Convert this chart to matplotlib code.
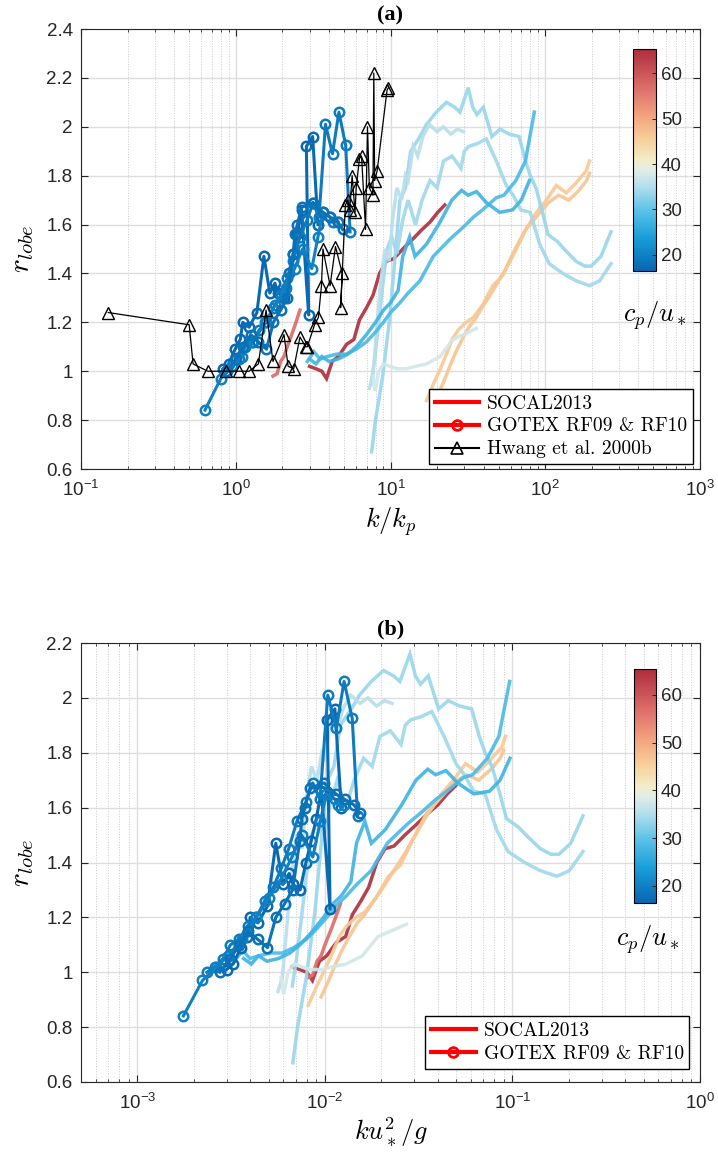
import numpy as np
import matplotlib
matplotlib.use('Agg')
import matplotlib.pyplot as plt
from matplotlib.colors import LinearSegmentedColormap, Normalize
from matplotlib.cm import ScalarMappable
from matplotlib.lines import Line2D
from matplotlib.ticker import LogLocator, FixedLocator, FuncFormatter, NullFormatter

plt.rcParams['font.family'] = ['Liberation Sans', 'DejaVu Sans']
plt.rcParams['mathtext.fontset'] = 'cm'

# ---------------- data ----------------
# SOCAL2013 lines: x = k/kp (panel a), y = r_lobe, cval = cp/u*, b_scale = divisor giving k u*^2/g
s1_x = [3.0, 3.3, 3.6, 3.86, 4.2, 4.6, 5.2, 5.8, 6.3, 7.0, 7.7, 8.5, 9.4, 10.5, 12.0, 13.9, 16.0, 18.0, 20.2, 22.4]
s1_y = [1.02, 1.01, 1.00, 0.97, 1.04, 1.06, 1.11, 1.13, 1.21, 1.26, 1.31, 1.40, 1.45, 1.46, 1.50, 1.54, 1.58, 1.61, 1.65, 1.68]
s2_x = [1.74, 1.85, 1.95, 2.05, 2.15, 2.30, 2.45, 2.60]
s2_y = [0.98, 0.99, 1.04, 1.06, 1.10, 1.15, 1.20, 1.25]
p1_x = [17.1, 19.0, 21.0, 23.0, 25.0, 27.5, 30.8, 34.3, 39.3, 45.8, 53.0, 61.5, 71.7, 87.6, 101.6, 118, 137, 158, 184, 193]
p1_y = [0.88, 0.95, 1.01, 1.07, 1.13, 1.17, 1.20, 1.22, 1.27, 1.35, 1.39, 1.48, 1.56, 1.65, 1.70, 1.76, 1.73, 1.77, 1.82, 1.86]
p2_x = [20.5, 22.5, 24.5, 26.5, 29, 32, 35, 39, 44, 50, 57, 65, 75, 90, 105, 122, 142, 165, 185, 193]
p2_y = [0.91, 0.97, 1.03, 1.08, 1.13, 1.18, 1.21, 1.26, 1.31, 1.37, 1.43, 1.50, 1.58, 1.64, 1.69, 1.72, 1.70, 1.74, 1.78, 1.81]
la_x = [7.55, 8.0, 8.9, 9.9, 10.7, 11.5, 12.5, 13.5, 15.5, 17.1, 19.8, 23.0, 26.0, 28.1, 31.8, 34.0, 36.2, 39.8, 45.2, 51, 58.6, 67.8, 74.5, 80, 87, 96, 104, 120, 137, 158, 180, 198, 229, 266]
la_y = [0.67, 0.80, 0.98, 1.22, 1.47, 1.70, 1.75, 1.90, 1.96, 2.01, 2.06, 2.10, 2.08, 2.06, 2.16, 2.08, 2.05, 2.08, 1.96, 1.99, 1.97, 1.96, 1.86, 1.80, 1.75, 1.65, 1.56, 1.53, 1.49, 1.45, 1.43, 1.43, 1.47, 1.57]
lb_x = [7.5, 7.9, 8.4, 8.9, 9.5, 10.2, 11.0, 12.0, 13.0, 14.5, 16.0, 18.0, 20.0, 22.0, 25.0, 28.5, 30.0, 32.0, 36.0, 41.6, 48.3, 56, 62, 69.5, 80, 92, 106, 130, 158, 193, 225, 266]
lb_y = [0.95, 1.05, 1.20, 1.35, 1.50, 1.55, 1.48, 1.62, 1.70, 1.60, 1.70, 1.78, 1.75, 1.86, 1.88, 1.83, 1.90, 1.92, 1.93, 1.95, 1.86, 1.76, 1.72, 1.66, 1.65, 1.52, 1.44, 1.40, 1.37, 1.35, 1.37, 1.44]
lp_x = [7.3, 7.7, 8.1, 8.6, 9.2, 9.8, 10.3, 11.0, 11.8, 12.5, 13.0, 14.0, 15.0, 16.2, 17.8, 20.0, 22.0, 24.5, 27.0, 29.6]
lp_y = [0.93, 0.98, 1.15, 1.35, 1.50, 1.45, 1.62, 1.75, 1.70, 1.80, 1.78, 1.92, 1.88, 1.96, 2.01, 1.98, 2.00, 1.97, 1.99, 1.98]
lf_x = [7.7, 7.95, 8.4, 9.0, 9.9, 11.0, 12.6, 14.5, 17.1, 20.9, 25.3, 30.8, 35.9]
lf_y = [0.98, 0.92, 1.00, 1.03, 1.02, 1.01, 1.01, 1.02, 1.03, 1.06, 1.13, 1.155, 1.175]
m1_x = [2.9, 3.2, 3.5, 3.9, 4.5, 5.2, 6.0, 7.0, 8.0, 9.0, 10.0, 11.5, 13.0, 15.5, 18.9, 24.2, 29.6, 34.3, 39.3, 48.3, 54, 64.6, 74.5, 79, 85]
m1_y = [1.04, 1.08, 1.05, 1.06, 1.07, 1.07, 1.09, 1.12, 1.16, 1.20, 1.24, 1.28, 1.32, 1.37, 1.47, 1.54, 1.59, 1.63, 1.66, 1.71, 1.72, 1.78, 1.86, 1.95, 2.06]
m2_x = [3.0, 3.3, 3.6, 4.0, 4.6, 5.3, 6.0, 7.0, 8.0, 9.0, 10.0, 11.2, 12.0, 13.3, 14.4, 17.1, 20.9, 24.9, 28.8, 31.7, 36, 41.6, 50.7, 61.5, 70, 79]
m2_y = [1.05, 1.03, 1.06, 1.04, 1.05, 1.07, 1.10, 1.15, 1.20, 1.25, 1.28, 1.33, 1.47, 1.55, 1.47, 1.52, 1.61, 1.70, 1.74, 1.72, 1.735, 1.69, 1.65, 1.66, 1.70, 1.78]

socal_x = [s1_x, s2_x, p1_x, p2_x, la_x, lb_x, lp_x, lf_x, m1_x, m2_x]
socal_y = [s1_y, s2_y, p1_y, p2_y, la_y, lb_y, lp_y, lf_y, m1_y, m2_y]
socal_c = [65.0, 57.0, 46.0, 46.5, 33.5, 34.0, 35.5, 37.5, 28.5, 27.5]
socal_b_scale = [450, 215, 2100, 2150, 1120, 1120, 1300, 1320, 880, 815]

# GOTEX RF09 & RF10
g1_x = [0.83, 0.90, 0.99, 1.07, 1.11, 1.22, 1.37, 1.52, 1.66, 1.79, 1.88, 2.05, 2.20, 2.35, 2.50, 2.66, 2.96, 2.86, 3.14, 3.40]
g1_y = [1.01, 1.03, 1.09, 1.13, 1.20, 1.18, 1.24, 1.47, 1.32, 1.36, 1.32, 1.30, 1.40, 1.48, 1.56, 1.66, 1.23, 1.92, 1.96, 1.60]
g2_x = [0.86, 0.95, 1.05, 1.15, 1.28, 1.42, 1.58, 1.75, 1.95, 2.15, 2.35, 2.60, 2.90, 3.16, 3.45, 3.80, 4.22, 4.64, 5.13, 5.48]
g2_y = [1.00, 1.02, 1.05, 1.10, 1.12, 1.17, 1.20, 1.26, 1.31, 1.38, 1.45, 1.55, 1.62, 1.69, 1.63, 2.01, 1.89, 2.06, 1.925, 1.57]
g3_x = [0.633, 0.80, 0.95, 1.10, 1.30, 1.55, 1.80, 2.10, 2.40, 2.70, 3.10, 3.40, 3.66, 4.07, 4.25, 4.57]
g3_y = [0.841, 0.97, 1.02, 1.06, 1.12, 1.20, 1.27, 1.34, 1.42, 1.50, 1.42, 1.55, 1.65, 1.63, 1.61, 1.61]
g4_x = [0.88, 1.00, 1.12, 1.25, 1.40, 1.58, 1.75, 1.95, 2.15, 2.35, 2.41, 2.50, 2.66, 3.16, 3.66, 4.07, 4.57, 4.90]
g4_y = [1.00, 1.05, 1.10, 1.15, 1.12, 1.09, 1.20, 1.25, 1.30, 1.48, 1.56, 1.60, 1.67, 1.69, 1.65, 1.63, 1.61, 1.58]
gotex_x = [g1_x, g2_x, g3_x, g4_x]
gotex_y = [g1_y, g2_y, g3_y, g4_y]
gotex_c = [16.8, 19.2, 20.0, 18.0]
gotex_b_scale = [278, 367, 360, 320]

# Hwang et al. 2000b
hw_x = [0.15, 0.50, 0.53, 0.66, 0.86, 1.05, 1.22, 1.40, 1.57, 1.74, 2.05, 2.18, 2.37, 2.60, 2.83, 2.90, 3.23, 3.42, 3.58, 3.66,
        4.07, 4.41, 4.88, 4.76, 5.11, 5.30, 5.45, 5.65, 5.90, 6.00, 6.30, 6.50, 6.90, 7.10, 7.30, 7.70, 7.80, 7.90, 8.20, 9.50, 9.70]
hw_y = [1.24, 1.19, 1.03, 1.00, 1.00, 1.00, 1.00, 1.03, 1.25, 1.04, 1.15, 1.02, 1.01, 1.14, 1.10, 1.10, 1.19, 1.22, 1.35, 1.50,
        1.35, 1.51, 1.40, 1.26, 1.68, 1.70, 1.66, 1.80, 1.65, 1.75, 1.87, 1.88, 1.58, 2.00, 1.75, 1.72, 2.22, 1.78, 1.82, 2.15, 2.16]

legend_labels = ['SOCAL2013', 'GOTEX RF09 & RF10', 'Hwang et al. 2000b']
panel_titles = ['(a)', '(b)']
cbar_ticks = [20, 30, 40, 50, 60]
cbar_lim = (16.4, 65.4)
y_ticks = [0.6, 0.8, 1.0, 1.2, 1.4, 1.6, 1.8, 2.0, 2.2, 2.4]

# ---------------- colormap ----------------
cm_nodes = [(0.00, (0.03, 0.40, 0.69)), (0.15, (0.10, 0.62, 0.85)), (0.27, (0.35, 0.76, 0.91)),
            (0.38, (0.70, 0.87, 0.93)), (0.46, (0.90, 0.93, 0.90)), (0.50, (0.95, 0.93, 0.78)),
            (0.60, (0.97, 0.80, 0.60)), (0.70, (0.95, 0.64, 0.50)), (0.82, (0.87, 0.44, 0.42)),
            (1.00, (0.68, 0.18, 0.24))]
cmap = LinearSegmentedColormap.from_list('rdylbu_soft', cm_nodes)
norm = Normalize(*cbar_lim)

W, H = 718, 1158
fig = plt.figure(figsize=(W / 100, H / 100), dpi=100)

def fx(px):
    return px / W

def fy(py):
    return 1 - py / H

ax_a = fig.add_axes([fx(81), fy(469), fx(700) - fx(81), fy(29) - fy(469)])
ax_b = fig.add_axes([fx(81), fy(1082), fx(700) - fx(81), fy(643) - fy(1082)])

TXT = (0.15, 0.15, 0.15)

def style_axes(ax, xlim, ylim):
    ax.set_xscale('log')
    ax.set_xlim(*xlim)
    ax.set_ylim(*ylim)
    ax.yaxis.set_major_locator(FixedLocator([t for t in y_ticks if ylim[0] - 1e-9 <= t <= ylim[1] + 1e-9]))
    ax.yaxis.set_major_formatter(FuncFormatter(lambda v, p: f'{v:g}'))
    ax.xaxis.set_major_locator(LogLocator(base=10, numticks=10))
    ax.xaxis.set_minor_locator(LogLocator(base=10, subs=np.arange(2, 10), numticks=20))
    ax.xaxis.set_minor_formatter(NullFormatter())
    ax.grid(True, which='major', color=(0.87, 0.87, 0.87), lw=1.0, ls='-')
    ax.grid(True, which='minor', axis='x', color=(0.80, 0.80, 0.80), lw=0.7, ls=':')
    ax.set_axisbelow(True)
    ax.tick_params(which='both', direction='in', top=True, right=True, labelsize=13.5, colors=TXT)
    ax.tick_params(which='major', length=5, width=0.8)
    ax.tick_params(which='minor', length=2.5, width=0.6)
    ax.tick_params(axis='x', which='major', pad=8)
    ax.tick_params(axis='y', which='major', pad=6)
    for sp in ax.spines.values():
        sp.set_linewidth(0.8)
        sp.set_color(TXT)
    ax.set_ylabel(r'$r_{lobe}$', fontsize=21)
    ax.yaxis.label.set_verticalalignment('center')
    ax.yaxis.set_label_coords(-0.0953, 0.5)

style_axes(ax_a, (0.1, 1000), (0.6, 2.4))
style_axes(ax_b, (5e-4, 1), (0.6, 2.2))

for ax, panel in ((ax_a, 'a'), (ax_b, 'b')):
    for xs, ys, cv, sc in zip(socal_x, socal_y, socal_c, socal_b_scale):
        xv = np.array(xs) if panel == 'a' else np.array(xs) / sc
        ax.plot(xv, ys, color=cmap(norm(cv)), lw=2.5, alpha=0.92, solid_joinstyle='miter', zorder=2)
    for xs, ys, cv, sc in zip(gotex_x, gotex_y, gotex_c, gotex_b_scale):
        xv = np.array(xs) if panel == 'a' else np.array(xs) / sc
        ax.plot(xv, ys, color=cmap(norm(cv)), lw=2.2, marker='o', ms=6.8, mfc='none', mew=1.8, zorder=3)

ax_a.plot(hw_x, hw_y, color='k', lw=0.9, marker='^', ms=8.5, mfc='none', mew=1.0, zorder=4)

# titles and labels
for ax, t in zip((ax_a, ax_b), panel_titles):
    ax.text(0.5, 1.008, t, transform=ax.transAxes, ha='center', va='bottom',
            fontsize=16, fontweight='bold', family=['Liberation Serif', 'DejaVu Serif'], color='k')
ax_a.set_xlabel(r'$k/k_p$', fontsize=19)
ax_a.xaxis.set_label_coords(0.5, -0.082)
ax_b.set_xlabel(r'$ku_*^2/g$', fontsize=19)
ax_b.xaxis.set_label_coords(0.5, -0.075)

# legends
h_socal = Line2D([], [], color='red', lw=3)
h_gotex = Line2D([], [], color='red', lw=3, marker='o', ms=7, mfc='none', mew=2)
h_hwang = Line2D([], [], color='k', lw=1.5, marker='^', ms=9, mfc='none', mew=1.2)
leg_kw = dict(prop={'family': 'cmr10', 'size': 14}, frameon=True, fancybox=False, edgecolor='k', framealpha=1,
              handlelength=2.3, handletextpad=0.4, borderpad=0.3, labelspacing=0.25, borderaxespad=0)
lg = ax_a.legend([h_socal, h_gotex, h_hwang], legend_labels,
                 loc='lower right', bbox_to_anchor=(0.9887, 0.011), **leg_kw)
lg.get_frame().set_linewidth(1.0)
lg2 = ax_b.legend([h_socal, h_gotex], legend_labels[:2],
                  loc='lower right', bbox_to_anchor=(0.983, 0.030), **leg_kw)
lg2.get_frame().set_linewidth(1.0)

# colorbars
sm = ScalarMappable(norm=norm, cmap=cmap)
for (x0, x1, y0, y1, lx, ly) in ((633, 656, 49, 271, 655, 316), (634, 656, 669, 903, 648, 940)):
    cax = fig.add_axes([fx(x0), fy(y1), fx(x1) - fx(x0), fy(y0) - fy(y1)])
    cb = fig.colorbar(sm, cax=cax, ticks=cbar_ticks)
    cb.ax.tick_params(direction='in', length=3, width=0.7, labelsize=13.5, colors=TXT)
    cb.outline.set_linewidth(0.8)
    fig.text(fx(lx), fy(ly), r'$c_p/u_*$', fontsize=19, ha='center', va='center')

fig.savefig('out.png', dpi=100)
